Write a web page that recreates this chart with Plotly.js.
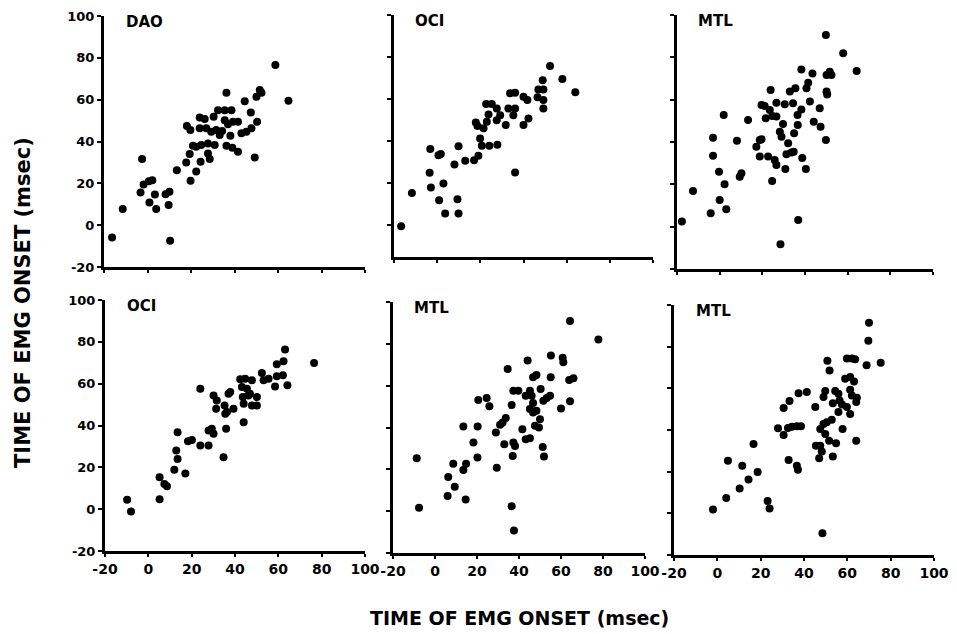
<!DOCTYPE html>
<html>
<head>
<meta charset="utf-8">
<script src="https://cdn.plot.ly/plotly-3.0.1.min.js"></script>
<style>html,body{margin:0;padding:0;background:#fff;}#chart{width:957px;height:634px;}</style>
</head>
<body>
<div id="chart"></div>
<script>
// ---- Data (msec) ----
// Panel 1: OOS (x) vs DAO (y)
var p1_oos = [-16.3,-11.4,-2.5,-3.2,-1.8,0.6,2.2,0.9,3.4,4,8.3,10.1,9.7,10.4,13.5,17.8,19.4,19.8,22.4,18.1,19.7,20.9,22.4,24.4,24,26.3,30.4,24,27,29.3,31.6,24.7,27.8,30.9,27.8,28.6,33.2,34.3,36.3,32.4,35.5,38.6,35.5,37,38.1,36.3,39,41.6,39.3,41.6,43.2,44.7,47.5,47.8,45.5,49.3,50.4,50.1,51.6,52.4,58.8,64.8];
var p1_dao = [-5.9,7.7,31.6,15.6,19.5,21,21.5,10.8,14.7,7.7,14.8,16,9.7,-7.5,26.3,30,34,21.2,25.7,47.4,45.5,38,37.5,30.3,51.5,50.7,51.8,46.3,46.3,44.7,45.5,38.3,39.1,38.3,34.3,31.6,43.1,45,63.3,55,55,55,50.2,48.3,42.7,38,37,35.1,49.4,49.4,43.9,59.3,53.9,46.3,44.7,32.4,49.4,61.4,64.6,63.3,76.6,59.5];
// Panel 2: OOS (x) vs OCI (y)
var p2_oos = [-16.7,-11.7,-3.2,-3.5,-2.9,0.6,1.7,0.9,2.9,3.7,9.4,9.9,8,9.9,13,17.1,19.1,19.9,20.7,24.2,27.9,17.9,18.7,21.5,23,23.8,22.7,25.3,27.6,29.2,27.6,31.8,33,36.1,35.3,33.8,36.1,40,41.8,40,42.3,36.1,46.5,46.9,49.2,49.2,49.2,48.9,52.3,58,64];
var p2_oci = [-0.8,15.1,36,24.7,17.7,33.1,33.6,11.6,19.6,5.3,12.1,5.3,28.7,37.4,30.4,30.7,32.8,41.1,37.6,37.6,38.1,48.7,47,45.9,49,52.5,57.5,57.5,55.4,52.2,49.8,47.5,55.4,55.4,52.2,62.6,62.9,61,59.4,47.5,50.6,24.8,60.7,64.5,64.5,59.4,55.4,68.9,75.6,69.4,63.1];
// Panel 3: OOS (x) vs MTL (y)
var p3_oos = [-17.7,-12.5,-4.2,0,3.1,-0.3,2.3,-3.1,-3.1,1.9,8.1,9.4,10.2,13.3,17.2,18.8,19.6,18.8,19.6,21.1,23.9,23.5,21.6,24.7,26.6,26.6,30.5,34.4,29.7,28.2,29,32.1,22.7,25.8,26.6,24.6,30.8,31.3,33.6,34.7,38.7,40.4,32.9,35.5,36.5,38.3,36.6,34.9,38.3,43.5,40.7,41.5,42.3,46.9,44.1,47.3,49.8,50.1,50.4,50.1,51.6,52.4,49.8,57.9,64.2,36.8,28.5];
var p3_mtl = [2.4,16.9,6.3,12.6,8.2,26,20,33.5,42,52.8,40.6,23.6,25.2,50.4,37.8,40.9,41.3,33.1,57.5,57,64.6,55.1,51.2,52.3,52,58.6,57.8,58.3,48.5,44.9,42.5,39.4,33.1,31.5,29.1,21.6,27.2,34.2,35,35.4,32.4,27.2,63.8,65.4,52.8,55.4,48,44.1,74.3,72.4,65.4,68,59.1,55.9,49.6,47.2,40.9,63.8,62.5,71.7,73.2,71.7,90.6,81.9,73.5,3.1,-8.3];
// Panel 4: DAO (x) vs OCI (y)
var p4_dao = [-9.8,-8,5.2,5.2,7.4,8.6,12,12.9,13.5,13.5,17.1,18.3,20.1,24,24,27.8,27.8,29.3,30.1,34.7,30.1,31.6,31.3,35.2,37,37.8,35.5,36.3,39.3,35.9,42.4,44.7,47.8,43.2,45.5,43.6,46.2,44,47.8,50.1,46.9,50.1,44,52.4,53.2,55.5,58.5,59.3,59.3,62.4,62.1,63.1,64.2,76.5];
var p4_oci = [4.5,-1.1,15.2,4.8,12,10.9,18.9,28,24,36.8,17.1,32.5,33.1,57.6,30.4,30.4,37.6,38.4,36,24.8,54.4,52,48,49.6,55.2,56,45.6,46.4,48,38.4,62.1,62.4,61.6,58.4,57.6,53.6,54.4,50.4,49.6,49.6,55.2,53.6,41.6,65.1,61.6,62.4,58.7,63.5,69.3,70.7,64,76.3,59.2,69.9];
// Panel 5: DAO (x) vs MTL (y)
var p5_dao = [-8.7,-7.6,6.3,6,8.7,9.4,13.5,14.8,14.6,13.5,18.3,20.3,20.2,20.6,24.6,25.9,29.4,29,31,32.2,33.7,34.6,33,36.5,37.3,39.7,36.5,37.6,37.3,38.1,37,41.6,43.2,45.2,43.2,45.2,46,46.7,45.2,46.7,48.3,47.6,49.5,50,44.1,46.7,48.3,50.3,51.6,53.2,54.8,55.2,55.1,51.3,51.9,60,60.8,61.1,64.3,63.9,65.9,64.3,77.8];
var p5_mtl = [25.3,1.6,16.3,7.2,22.7,11.7,19.7,22.7,5.6,40.5,32.8,40.5,25.6,53.1,54.1,50.1,20.8,37.6,41.3,42.4,44.5,68,32,50.7,57.6,57.6,2.4,-9.3,32.8,31.2,26.4,39.2,34.4,34.9,55.2,57.6,55.2,51.7,48.8,47.2,48,40.8,40,44,72,64,65.1,58.4,52.8,54.1,55.2,74.4,64,30.7,26.1,49.1,73.3,71.2,52.5,62.7,63.5,90.9,82.1];
// Panel 6: OCI (x) vs MTL (y)
var p6_oci = [-2,4.1,4.9,10.3,11.5,14.4,16.7,18.6,23.2,24.1,28,30.6,30.6,33.3,32.9,32.6,34.4,36.7,38.6,36.7,37.2,37.5,41.3,45.2,45.5,47.5,48.2,47,48.5,49,49.8,47.5,49,50.5,52.8,49.8,51.6,53.3,54.8,50.8,51.8,53.3,54.4,55.9,56.4,55.9,57.5,57.8,59.8,61.3,59,61.3,63.1,61.3,62.1,64.4,64.1,64.1,59.8,62.1,63.6,68.9,69.7,70,75.4];
var p6_mtl = [1.8,7.4,25.2,11.9,22.8,16.2,33.3,19.9,5.9,2.3,40.8,37.6,50.6,53.9,25.6,41,41.6,41.8,41.8,22.8,20.9,57.7,58.2,51,32.5,32.5,29.7,26.5,-9.6,55.8,58.7,40.5,42.9,43.7,44.9,38.1,34.9,27.3,33.6,73.2,68.6,52.9,58.7,57.4,54.2,48.6,52.3,40.5,51,47.7,64.6,65.4,63.3,59.3,56.6,55.5,53.4,34.9,74.3,74.3,74,71.1,82.8,91.5,72.3];

var xLabels = ['OOS','OOS','OOS','DAO','DAO','OCI'];
var yLabels = ['DAO','OCI','MTL','OCI','MTL','MTL'];
var tickVals = [-20,0,20,40,60,80,100];
var tickText = ['-20','0','20','40','60','80','100'];
var axisTitle = 'TIME OF EMG ONSET (msec)';

var xs = [p1_oos,p2_oos,p3_oos,p4_dao,p5_dao,p6_oci];
var ys = [p1_dao,p2_oci,p3_mtl,p4_oci,p5_mtl,p6_mtl];

// ---- Layout geometry (pixels) ----
var W = 957, H = 634;
var geo = [
  {x0:104, x1:365, yt:16,  yb:267, ymin:-20},
  {x0:394, x1:653, yt:15,  yb:257, ymin:-15.5},
  {x0:677, x1:933, yt:15,  yb:269, ymin:-20},
  {x0:105, x1:365, yt:300, yb:551, ymin:-20},
  {x0:393, x1:645, yt:302, yb:553, ymin:-20},
  {x0:674, x1:934, yt:305, yb:555, ymin:-20}
];

var font = 'DejaVu Sans, Liberation Sans, Arial, sans-serif';
var boldText = tickText.map(function (t) { return '<b>' + t + '</b>'; });
var traces = [];
var layout = {
  width: W, height: H,
  margin: {l:0, r:0, t:0, b:0},
  paper_bgcolor: '#fff', plot_bgcolor: '#fff',
  showlegend: false,
  hovermode: false,
  annotations: []
};

for (var i = 0; i < 6; i++) {
  var n = i + 1;
  var sfx = n === 1 ? '' : String(n);
  var g = geo[i];
  traces.push({
    type: 'scatter', mode: 'markers',
    x: xs[i], y: ys[i],
    xaxis: 'x' + sfx, yaxis: 'y' + sfx,
    cliponaxis: false,
    marker: {color: '#000', size: 8, line: {width: 0}}
  });
  var showX = i >= 3, showY = (i % 3) === 0;
  layout['xaxis' + sfx] = {
    domain: [g.x0 / W, g.x1 / W],
    anchor: 'y' + sfx,
    range: [-20, 100],
    showgrid: false, zeroline: false,
    showline: true, linecolor: '#000', linewidth: 3,
    ticks: 'outside', ticklen: 3, tickwidth: 2, tickcolor: '#000',
    tickvals: tickVals, ticktext: boldText,
    showticklabels: showX,
    tickfont: {family: font, size: 14, color: '#000'}
  };
  layout['yaxis' + sfx] = {
    domain: [1 - g.yb / H, 1 - g.yt / H],
    anchor: 'x' + sfx,
    range: [g.ymin, 100],
    showgrid: false, zeroline: false,
    showline: true, linecolor: '#000', linewidth: 3,
    ticks: 'outside', ticklen: 4, tickwidth: 2, tickcolor: '#000',
    tickvals: tickVals, ticktext: boldText,
    showticklabels: showY,
    tickfont: {family: font, size: 13, color: '#000'}
  };
  layout.annotations.push({
    xref: 'x' + sfx, yref: 'y' + sfx,
    x: -11, y: 97, xanchor: 'left', yanchor: 'middle',
    text: '<b>' + yLabels[i] + '</b>', showarrow: false,
    font: {family: font, size: 15, color: '#000'}
  });
  layout.annotations.push({
    xref: 'x' + sfx, yref: 'y' + sfx,
    x: 101, y: (i < 3 ? -11 : -12.5), xanchor: 'right', yanchor: 'middle',
    text: '<b>' + xLabels[i] + '</b>', showarrow: false,
    font: {family: font, size: 15, color: '#000'}
  });
}

layout.annotations.push({
  xref: 'paper', yref: 'paper',
  x: 519 / W, y: 1 - 618 / H, xanchor: 'center', yanchor: 'middle',
  text: '<b>' + axisTitle + '</b>', showarrow: false,
  font: {family: font, size: 19, color: '#000'}
});
layout.annotations.push({
  xref: 'paper', yref: 'paper',
  x: 23 / W, y: 1 - 303 / H, xanchor: 'center', yanchor: 'middle',
  textangle: -90,
  text: '<b>' + axisTitle + '</b>', showarrow: false,
  font: {family: font, size: 21, color: '#000'}
});

Plotly.newPlot('chart', traces, layout, {staticPlot: true, displayModeBar: false});
</script>
</body>
</html>
